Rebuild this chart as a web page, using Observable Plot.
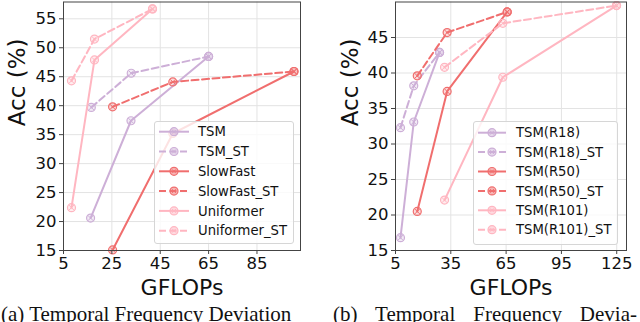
<!DOCTYPE html>
<html><head><meta charset="utf-8">
<script src="https://cdn.jsdelivr.net/npm/d3@7"></script>
<script src="https://cdn.jsdelivr.net/npm/@observablehq/plot@0.6"></script>
<style>
html,body{margin:0;padding:0;background:#fff;overflow:hidden;}
#wrap{position:relative;width:640px;height:322px;overflow:hidden;background:#fff;}
.panel{position:absolute;top:0;width:320px;height:302px;}
.legend{position:absolute;background:rgba(255,255,255,0.8);border:1px solid #d6d6d6;border-radius:3px;box-sizing:border-box;}
.legend svg{position:absolute;left:0;top:0;overflow:visible;}
.cap{position:absolute;top:304px;font-family:"Liberation Serif",serif;font-size:21px;line-height:21px;white-space:nowrap;color:#111;}
</style></head>
<body>
<div id="wrap">
  <div class="panel" id="left" style="left:0"></div>
  <div class="panel" id="right" style="left:320px"></div>
  <div class="legend" id="legL" style="left:154px;top:121px;width:140px;height:123px"></div>
  <div class="legend" id="legR" style="left:473px;top:121px;width:145px;height:124px"></div>
  <div class="cap" style="left:1px;width:306px;">(a) Temporal Frequency Deviation</div>
  <div class="cap" style="left:333px;width:304px;text-align:justify;text-align-last:justify;white-space:normal;">(b) Temporal Frequency Devia-</div>
</div>
<script>
// ---------- Panel (a) data ----------
const leftSeries = ["TSM", "TSM_ST", "SlowFast", "SlowFast_ST", "Uniformer", "Uniformer_ST"];
const tsm_x = [16.2, 32.9, 65.0],        tsm_y = [20.6, 37.4, 48.5];
const tsmST_x = [16.5, 33.0, 65.0],      tsmST_y = [39.7, 45.6, 48.5];
const slowfast_x = [25.3, 50.2, 100.3],  slowfast_y = [15.1, 35.2, 45.9];
const slowfastST_x = [25.3, 50.2, 100.3],slowfastST_y = [39.8, 44.1, 45.9];
const uniformer_x = [8.3, 17.8, 41.8],   uniformer_y = [22.4, 47.9, 56.7];
const uniformerST_x = [8.3, 17.8, 41.8], uniformerST_y = [44.3, 51.5, 56.7];
const leftXTicks = [5, 25, 45, 65, 85];
const leftYTicks = [15, 20, 25, 30, 35, 40, 45, 50, 55];

// ---------- Panel (b) data ----------
const rightSeries = ["TSM(R18)", "TSM(R18)_ST", "TSM(R50)", "TSM(R50)_ST", "TSM(R101)", "TSM(R101)_ST"];
const r18_x = [7.7, 14.9, 28.9],    r18_y = [16.8, 33.1, 42.9];
const r18ST_x = [7.7, 14.9, 28.9],  r18ST_y = [32.3, 38.2, 42.9];
const r50_x = [16.8, 33.0, 65.6],   r50_y = [20.5, 37.4, 48.6];
const r50ST_x = [16.8, 33.0, 65.6], r50ST_y = [39.6, 45.7, 48.6];
const r101_x = [31.6, 63.2, 124.9], r101_y = [22.1, 39.4, 49.5];
const r101ST_x = [31.6, 63.2, 124.9], r101ST_y = [40.8, 47.0, 49.5];
const rightXTicks = [5, 35, 65, 95, 125];
const rightYTicks = [15, 20, 25, 30, 35, 40, 45];

// ---------- Styles ----------
const colors = ["#cdafd7", "#cdafd7", "#f06e6e", "#f06e6e", "#ffb6c1", "#ffb6c1"];
const dashed = [false, true, false, true, false, true];

function rows(names, xs, ys) {
  const out = [];
  names.forEach((name, i) => xs[i].forEach((x, j) => out.push({series: name, idx: i, gflops: x, acc: ys[i][j]})));
  return out;
}
const leftData = rows(leftSeries,
  [tsm_x, tsmST_x, slowfast_x, slowfastST_x, uniformer_x, uniformerST_x],
  [tsm_y, tsmST_y, slowfast_y, slowfastST_y, uniformer_y, uniformerST_y]);
const rightData = rows(rightSeries,
  [r18_x, r18ST_x, r50_x, r50ST_x, r101_x, r101ST_x],
  [r18_y, r18ST_y, r50_y, r50ST_y, r101_y, r101ST_y]);

function panel(data, names, opts) {
  const marks = [];
  marks.push(Plot.gridX(opts.xTicks, {stroke: "#e3e3e3", strokeOpacity: 1}));
  marks.push(Plot.gridY(opts.yTicks, {stroke: "#e3e3e3", strokeOpacity: 1}));
  names.forEach((name, i) => {
    const d = data.filter(r => r.series === name);
    marks.push(Plot.line(d, {x: "gflops", y: "acc", stroke: colors[i], strokeWidth: 2,
      strokeDasharray: dashed[i] ? "7,3.5" : null}));
    marks.push(Plot.dot(d, {x: "gflops", y: "acc", r: 4, stroke: colors[i], strokeWidth: 1.2, fill: colors[i], fillOpacity: 0.25}));
    marks.push(Plot.dot(d, {x: "gflops", y: "acc", r: 2.6, symbol: "times", stroke: colors[i], strokeWidth: 1}));
  });
  marks.push(Plot.frame({stroke: "#444", strokeWidth: 1}));
  marks.push(Plot.axisX(opts.xTicks, {tickSize: 4, tickPadding: 3, fontSize: 16.5, color: "#111", stroke: "#444"}));
  marks.push(Plot.axisY(opts.yTicks, {tickSize: 4, tickPadding: 3, fontSize: 16.5, color: "#111", stroke: "#444"}));
  marks.push(Plot.text(["GFLOPs"], {frameAnchor: "bottom", dy: 44, fontSize: 22, fill: "#111"}));
  marks.push(Plot.text(["Acc (%)"], {frameAnchor: "left", rotate: -90, dx: opts.ylabelDx, fontSize: 23, fill: "#111"}));
  return Plot.plot({
    width: 320, height: 302,
    marginLeft: opts.ml, marginRight: opts.mr, marginTop: 1.5, marginBottom: 52,
    x: {domain: opts.xDomain, label: null},
    y: {domain: opts.yDomain, label: null},
    style: {fontFamily: "DejaVu Sans", background: "transparent", overflow: "visible"},
    marks
  });
}

document.getElementById("left").append(panel(leftData, leftSeries, {
  xTicks: leftXTicks, yTicks: leftYTicks, xDomain: [5, 103], yDomain: [15, 57.9],
  ml: 63, mr: 20, ylabelDx: -46
}));
document.getElementById("right").append(panel(rightData, rightSeries, {
  xTicks: rightXTicks, yTicks: rightYTicks, xDomain: [5, 130.3], yDomain: [15, 50.0],
  ml: 75, mr: 14, ylabelDx: -45
}));

function legend(el, names, lx0, lx1, mx, tx, y0, step) {
  const ns = "http://www.w3.org/2000/svg";
  const svg = document.createElementNS(ns, "svg");
  svg.setAttribute("width", el.clientWidth);
  svg.setAttribute("height", el.clientHeight);
  names.forEach((name, i) => {
    const y = y0 + i * step;
    const line = document.createElementNS(ns, "line");
    line.setAttribute("x1", lx0); line.setAttribute("x2", lx1);
    line.setAttribute("y1", y); line.setAttribute("y2", y);
    line.setAttribute("stroke", colors[i]); line.setAttribute("stroke-width", 2);
    if (dashed[i]) line.setAttribute("stroke-dasharray", "7,3.5");
    svg.append(line);
    const c = document.createElementNS(ns, "circle");
    c.setAttribute("cx", mx); c.setAttribute("cy", y); c.setAttribute("r", 4);
    c.setAttribute("stroke", colors[i]); c.setAttribute("stroke-width", 1.2);
    c.setAttribute("fill", colors[i]); c.setAttribute("fill-opacity", 0.5);
    svg.append(c);
    const p = document.createElementNS(ns, "path");
    const s = 1.9;
    p.setAttribute("d", `M${mx-s},${y-s}L${mx+s},${y+s}M${mx-s},${y+s}L${mx+s},${y-s}`);
    p.setAttribute("stroke", colors[i]); p.setAttribute("stroke-width", 1);
    svg.append(p);
    const t = document.createElementNS(ns, "text");
    t.setAttribute("x", tx); t.setAttribute("y", y);
    t.setAttribute("dy", "0.35em");
    t.setAttribute("font-family", "DejaVu Sans");
    t.setAttribute("font-size", 13.2);
    t.setAttribute("fill", "#111");
    t.textContent = name;
    svg.append(t);
  });
  el.append(svg);
}
legend(document.getElementById("legL"), leftSeries, 4, 34, 19, 43, 9.7, 19.8);
legend(document.getElementById("legR"), rightSeries, 4, 32, 18, 42, 10.7, 19.4);
</script>
</body></html>
